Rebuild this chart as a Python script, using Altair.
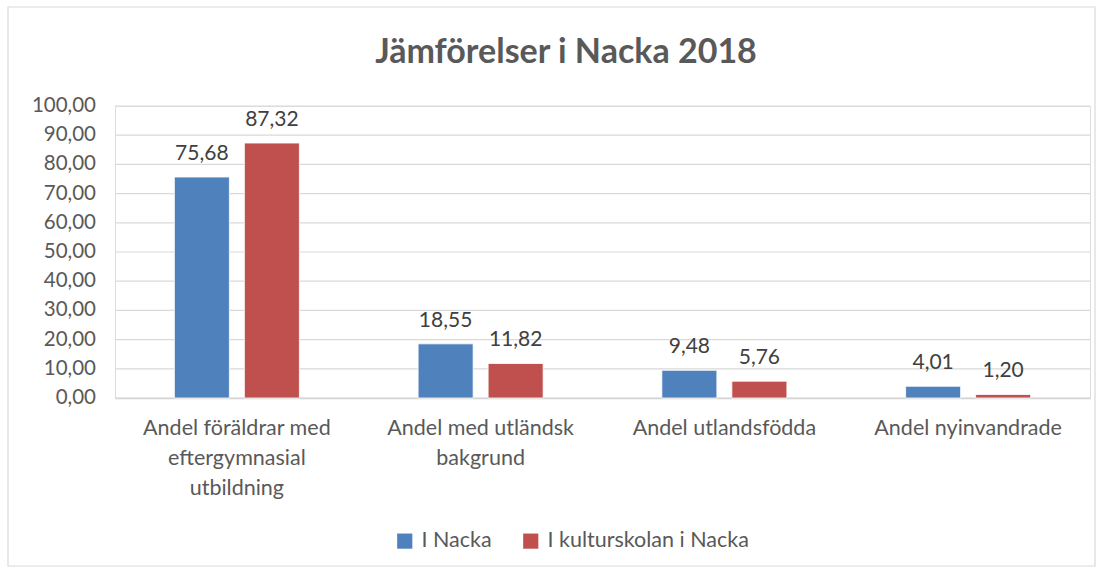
import altair as alt
import pandas as pd

categories = ["Andel föräldrar med|eftergymnasial|utbildning",
              "Andel med utländsk|bakgrund",
              "Andel utlandsfödda",
              "Andel nyinvandrade"]
series = ["I Nacka", "I kulturskolan i Nacka"]
nacka = [75.68, 18.55, 9.48, 4.01]
kultur = [87.32, 11.82, 5.76, 1.20]
colors = ["#4F81BD", "#C0504D"]
title_text = "Jämförelser i Nacka 2018"
y_ticks = [0, 10, 20, 30, 40, 50, 60, 70, 80, 90, 100]

rows = []
for i, c in enumerate(categories):
    rows.append({"cat": c, "series": series[0], "value": nacka[i]})
    rows.append({"cat": c, "series": series[1], "value": kultur[i]})
df = pd.DataFrame(rows)
tick_df = pd.DataFrame({"v": y_ticks})

FONT = "Lato"
GRAY = "#595959"
YSCALE = alt.Scale(domain=[0, 100], nice=False)

x = alt.X("cat:N", sort=categories, title=None,
          scale=alt.Scale(paddingInner=0.487, paddingOuter=0.2435),
          axis=alt.Axis(labelExpr="split(datum.label, '|')", labelAngle=0,
                        labelFontSize=21.5, labelColor=GRAY, labelFont=FONT,
                        labelPadding=30, labelLineHeight=30, ticks=False,
                        labelLimit=400, labelOverlap=False,
                        domainColor="#d0d0d0", domainWidth=1.5, labelBaseline="middle"))
xo = alt.XOffset("series:N", sort=series,
                 scale=alt.Scale(paddingInner=0.214, paddingOuter=0))
y = alt.Y("value:Q", title=None, scale=YSCALE, axis=None)
color = alt.Color("series:N", sort=series, title=None,
                  scale=alt.Scale(domain=series, range=colors),
                  legend=alt.Legend(orient="none", legendX=279, legendY=424,
                                    direction="horizontal", symbolType="square",
                                    symbolSize=230, symbolStrokeWidth=0,
                                    labelFontSize=21.5, labelColor=GRAY, labelFont=FONT,
                                    labelLimit=400, columnPadding=28, labelOffset=6))

grid = alt.Chart(tick_df).mark_rule(color="#d9d9d9", strokeWidth=1.2).encode(
    x=alt.value(0), x2=alt.value(975),
    y=alt.Y("v:Q", scale=YSCALE, axis=None))
ylabels = alt.Chart(tick_df).mark_text(
    align="right", baseline="middle", fontSize=20.5, font=FONT, color=GRAY).encode(
    x=alt.value(-19), y=alt.Y("v:Q", scale=YSCALE, axis=None),
    text=alt.Text("lab:N")).transform_calculate(
    lab="replace(format(datum.v, '.2f'), '.', ',')")

base = alt.Chart(df)
bars = base.mark_bar(stroke="white", strokeWidth=0.8).encode(x=x, xOffset=xo, y=y, color=color)
labels = base.mark_text(dy=-13, fontSize=21, font=FONT, color="#404040", baseline="bottom").encode(
    x=x, xOffset=xo, y=y,
    text=alt.Text("label:N"))
labels = labels.transform_calculate(label="replace(format(datum.value, '.2f'), '.', ',')")

border = alt.Chart(pd.DataFrame({"a": [0]})).mark_rect(
    fill=None, stroke="#d9d9d9", strokeWidth=1.2).encode(
    x=alt.value(-107), x2=alt.value(980), y=alt.value(-99), y2=alt.value(460))

title = alt.Chart(pd.DataFrame({"t": [title_text]})).mark_text(
    font=FONT, fontSize=34, fontWeight="bold", color=GRAY, baseline="middle", align="center").encode(
    x=alt.value(451), y=alt.value(-53), text="t:N")

chart = alt.layer(grid, ylabels, bars, labels, border, title).properties(
    width=975, height=292,
    autosize=alt.AutoSizeParams(type="none"),
    padding={"left": 115, "top": 106, "right": 22, "bottom": 175},
).configure_view(stroke=None).configure(background="white")

chart.save("out.html", embed_options={"renderer": "svg", "actions": False})
